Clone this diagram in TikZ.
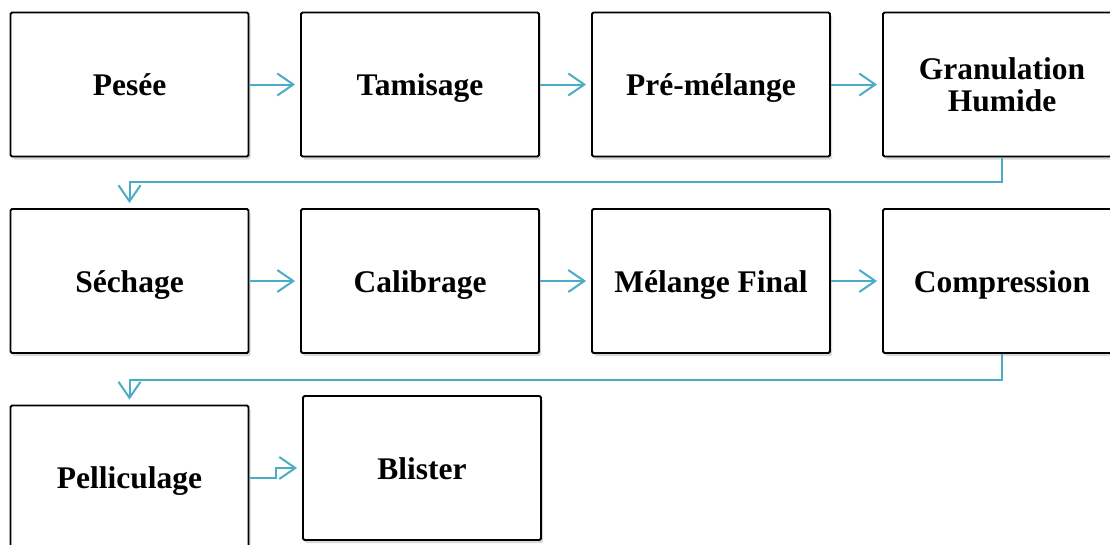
\documentclass[tikz,border=0pt]{standalone}
\usepackage{fontspec}
\setmainfont{Liberation Serif}
\usetikzlibrary{arrows.meta,shadows,positioning}
\definecolor{flowblue}{RGB}{75,172,198}
\tikzset{
  stepbox/.style={draw=black, line width=1.9pt, fill=white, rounded corners=1.5pt,
    minimum width=238pt, minimum height=144pt, inner sep=2pt, align=center,
    text height=22pt, text depth=0pt,
    font=\bfseries\fontsize{31.5}{32}\selectfont,
    drop shadow={shadow xshift=2pt, shadow yshift=-3pt, opacity=0.25, fill=black!60}},
  twoline/.style={text height={}, text depth={}},
  conn/.style={draw=flowblue, line width=2pt,
    -{Straight Barb[length=16pt,width=22pt,line width=2pt]}, shorten >=5pt}
}
\begin{document}
\begin{tikzpicture}[x=1pt,y=-1pt]
\useasboundingbox (0,0) rectangle (1110,544);
\clip (0,0) rectangle (1110,544);
% first row
\node[stepbox] (pesee)  at (129.5,84.5) {Pesée};
\node[stepbox] (tamis)  at (420,84.5)   {Tamisage};
\node[stepbox] (premel) at (711,84.5)   {Pré-mélange};
\node[stepbox, twoline] (granu) at (1002,84.5) {Granulation\\Humide};
% second row
\node[stepbox] (sech)   at (129.5,281)  {Séchage};
\node[stepbox] (calib)  at (420,281)    {Calibrage};
\node[stepbox] (melfin) at (711,281)    {Mélange Final};
\node[stepbox] (compr)  at (1002,281)   {Compression};
% third row
\node[stepbox] (pellic) at (129.5,477.5) {Pelliculage};
\node[stepbox] (blist)  at (422,468)     {Blister};
% connectors
\draw[conn] (pesee.east) -- (tamis.west);
\draw[conn] (tamis.east) -- (premel.west);
\draw[conn] (premel.east) -- (granu.west);
\draw[conn] (granu.south) -- ++(0,25) -| (sech.north);
\draw[conn] (sech.east) -- (calib.west);
\draw[conn] (calib.east) -- (melfin.west);
\draw[conn] (melfin.east) -- (compr.west);
\draw[conn] (compr.south) -- ++(0,26) -| (pellic.north);
\draw[conn] (pellic.east) -- ++(27,0) |- (blist.west);
\end{tikzpicture}
\end{document}
